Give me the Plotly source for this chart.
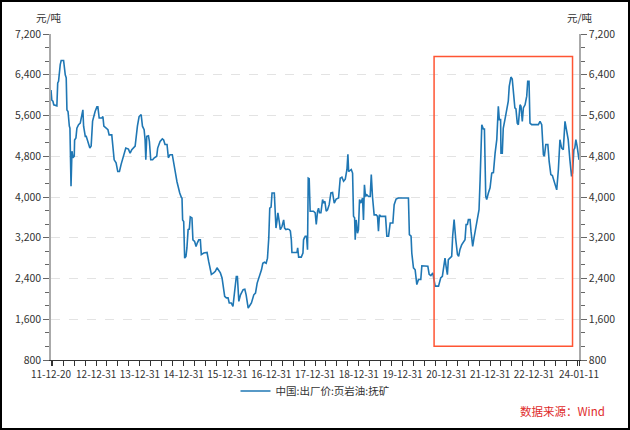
import plotly.graph_objects as go
import pandas as pd

# ---- data ----
dates = [
    "2011-12-20", "2011-12-27", "2012-01-05", "2012-01-12", "2012-02-07", "2012-02-14", "2012-02-21",
    "2012-02-28", "2012-03-06", "2012-03-14", "2012-04-03", "2012-04-17", "2012-04-25", "2012-05-01",
    "2012-05-10", "2012-05-21", "2012-05-26", "2012-06-04", "2012-06-12", "2012-06-20", "2012-07-01",
    "2012-07-04", "2012-07-15", "2012-07-23", "2012-08-06", "2012-08-20", "2012-09-03", "2012-09-11",
    "2012-09-17", "2012-10-01", "2012-10-09", "2012-10-23", "2012-11-08", "2012-11-19", "2012-12-01",
    "2012-12-22", "2013-01-06", "2013-01-14", "2013-01-25", "2013-02-17", "2013-02-25", "2013-03-05",
    "2013-03-21", "2013-04-08", "2013-04-18", "2013-05-10", "2013-05-30", "2013-06-15", "2013-06-29",
    "2013-07-13", "2013-07-27", "2013-08-07", "2013-08-24", "2013-09-04", "2013-09-26", "2013-10-10",
    "2013-10-24", "2013-11-07", "2013-11-21", "2013-12-10", "2013-12-24", "2014-01-10", "2014-01-21",
    "2014-02-04", "2014-02-12", "2014-02-18", "2014-02-26", "2014-03-12", "2014-03-20", "2014-03-31",
    "2014-04-16", "2014-04-30", "2014-05-20", "2014-05-28", "2014-06-17", "2014-07-06", "2014-07-17",
    "2014-07-28", "2014-08-14", "2014-08-25", "2014-09-08", "2014-09-27", "2014-10-06", "2014-10-14",
    "2014-10-25", "2014-11-05", "2014-11-14", "2014-11-28", "2014-12-12", "2014-12-17", "2014-12-22",
    "2014-12-31", "2015-01-08", "2015-01-19", "2015-01-27", "2015-02-06", "2015-02-16", "2015-02-24",
    "2015-03-10", "2015-03-18", "2015-04-01", "2015-04-13", "2015-04-24", "2015-05-06", "2015-05-19",
    "2015-05-27", "2015-06-16", "2015-07-14", "2015-07-27", "2015-08-10", "2015-08-19", "2015-09-07",
    "2015-09-21", "2015-10-05", "2015-10-19", "2015-11-02", "2015-11-16", "2015-11-30", "2015-12-08",
    "2015-12-22", "2016-01-05", "2016-01-15", "2016-02-01", "2016-02-15", "2016-03-01", "2016-03-14",
    "2016-03-23", "2016-04-04", "2016-04-18", "2016-04-26", "2016-05-10", "2016-05-24", "2016-06-04",
    "2016-06-21", "2016-07-01", "2016-07-18", "2016-08-07", "2016-08-21", "2016-09-04", "2016-09-23",
    "2016-10-10", "2016-10-21", "2016-11-04", "2016-11-18", "2016-11-29", "2016-12-10", "2016-12-18",
    "2016-12-29", "2017-01-06", "2017-01-25", "2017-02-02", "2017-02-08", "2017-02-16", "2017-02-24",
    "2017-03-07", "2017-03-16", "2017-03-30", "2017-04-13", "2017-04-21", "2017-05-02", "2017-05-16",
    "2017-05-30", "2017-06-08", "2017-06-16", "2017-06-21", "2017-07-19", "2017-08-02", "2017-08-08",
    "2017-08-16", "2017-09-07", "2017-09-21", "2017-09-26", "2017-10-10", "2017-10-21", "2017-10-29",
    "2017-11-04", "2017-11-12", "2017-11-20", "2017-12-18", "2018-01-01", "2018-01-10", "2018-01-21",
    "2018-01-29", "2018-02-06", "2018-02-18", "2018-03-04", "2018-03-12", "2018-03-23", "2018-04-03",
    "2018-04-14", "2018-04-28", "2018-05-12", "2018-05-26", "2018-06-09", "2018-06-25", "2018-07-15",
    "2018-07-29", "2018-08-12", "2018-08-26", "2018-09-09", "2018-09-23", "2018-10-01", "2018-10-07",
    "2018-10-29", "2018-11-09", "2018-11-17", "2018-11-26", "2018-12-01", "2018-12-09", "2018-12-20",
    "2018-12-28", "2019-01-06", "2019-01-17", "2019-01-31", "2019-02-08", "2019-02-16", "2019-02-25",
    "2019-03-08", "2019-03-22", "2019-04-05", "2019-04-14", "2019-04-24", "2019-05-08", "2019-05-25",
    "2019-06-05", "2019-06-13", "2019-06-21", "2019-07-02", "2019-07-25", "2019-08-11", "2019-08-22",
    "2019-09-05", "2019-09-19", "2019-10-11", "2019-10-22", "2019-11-07", "2019-11-26", "2020-02-04",
    "2020-02-18", "2020-02-26", "2020-03-11", "2020-03-17", "2020-03-31", "2020-04-14", "2020-04-28",
    "2020-05-12", "2020-05-31", "2020-06-09", "2020-07-15", "2020-07-29", "2020-08-09", "2020-08-23",
    "2020-09-08", "2020-09-19", "2020-09-28", "2020-10-26", "2020-11-13", "2020-11-27", "2020-12-11",
    "2020-12-19", "2020-12-28", "2021-01-08", "2021-01-16", "2021-01-30", "2021-02-13", "2021-02-21",
    "2021-03-05", "2021-03-19", "2021-04-02", "2021-04-12", "2021-04-23", "2021-05-07", "2021-05-21",
    "2021-06-04", "2021-06-13", "2021-06-24", "2021-07-02", "2021-07-16", "2021-07-24", "2021-08-07",
    "2021-08-18", "2021-09-01", "2021-09-18", "2021-09-29", "2021-10-08", "2021-10-22", "2021-11-04",
    "2021-11-13", "2021-11-24", "2021-12-02", "2021-12-16", "2021-12-30", "2022-01-13", "2022-01-27",
    "2022-02-10", "2022-02-24", "2022-03-09", "2022-03-17", "2022-03-28", "2022-03-31", "2022-04-11",
    "2022-04-19", "2022-05-03", "2022-05-17", "2022-05-31", "2022-06-08", "2022-06-22", "2022-07-03",
    "2022-07-11", "2022-07-25", "2022-08-03", "2022-08-14", "2022-08-23", "2022-09-06", "2022-09-14",
    "2022-09-25", "2022-10-04", "2022-10-18", "2022-11-01", "2022-11-09", "2022-11-20", "2022-11-28",
    "2022-12-12", "2023-02-06", "2023-02-20", "2023-03-06", "2023-03-20", "2023-03-28", "2023-04-09",
    "2023-04-26", "2023-05-07", "2023-05-21", "2023-06-03", "2023-06-17", "2023-07-01", "2023-07-09",
    "2023-07-23", "2023-08-05", "2023-08-19", "2023-09-02", "2023-09-16", "2023-09-29", "2023-10-13",
    "2023-10-27", "2023-11-10", "2023-11-18", "2023-11-29", "2023-12-07", "2023-12-16", "2023-12-27",
    "2024-01-11",
]

prices = [
    6100, 5900, 5880, 5810, 5790, 6240, 6270,
    6530, 6600, 6680, 6680, 6400, 6340, 5710,
    5680, 5390, 5350, 4210, 4900, 4770, 4800,
    5120, 5160, 5350, 5420, 5450, 5680, 5710,
    5390, 5190, 5190, 5060, 4960, 5000, 5490,
    5680, 5770, 5770, 5550, 5550, 5580, 5390,
    5350, 5320, 5220, 5220, 4730, 4670, 4500,
    4500, 4640, 4730, 4860, 4960, 4940, 4860,
    4930, 4960, 5000, 5390, 5580, 5620, 5390,
    5320, 5120, 4730, 5190, 5200, 5090, 4730,
    4730, 4770, 4800, 4960, 5090, 5140, 5120,
    5030, 5030, 4770, 4830, 4830, 4730, 4640,
    4450, 4300, 4200, 4080, 3990, 3980, 3550,
    3520, 2800, 2835, 3000, 3360, 3370, 3610,
    3590, 3160, 3130, 3030, 3100, 3160, 3160,
    2870, 2900, 2910, 2740, 2570, 2480, 2510,
    2540, 2610, 2570, 2510, 2410, 2180, 2050,
    2020, 2020, 1920, 1920, 1850, 2115, 2440,
    2440, 1950, 2080, 2115, 2180, 2190, 2080,
    1820, 1850, 1920, 2080, 2115, 2310, 2440,
    2570, 2700, 2720, 2700, 2800, 3200, 3780,
    3800, 4080, 4080, 3750, 3390, 3520, 3690,
    3520, 3360, 3420, 3550, 3390, 3360, 3370,
    3360, 3330, 3160, 2910, 2910, 2910, 3000,
    2820, 2820, 2900, 3160, 3230, 3230, 2965,
    4370, 4360, 3720, 3720, 3690, 3460, 3720,
    3780, 3690, 3690, 3950, 3880, 3915, 3720,
    3750, 3850, 4080, 4090, 3880, 3960, 3980,
    4370, 4390, 4310, 4350, 4540, 4840, 4500,
    4540, 4470, 3620, 3590, 3160, 3550, 3290,
    3360, 3950, 3880, 3980, 3550, 4240, 4010,
    4045, 4010, 4010, 4440, 4010, 3650, 3650,
    3620, 3330, 3650, 3620, 3620, 3620, 3230,
    3230, 3490, 3490, 3850, 3960, 3980, 3980,
    3980, 3260, 3230, 2900, 2610, 2570, 2280,
    2380, 2380, 2650, 2650, 2640, 2480, 2455,
    2510, 2340, 2250, 2250, 2410, 2440, 2700,
    2800, 2640, 2475, 2770, 2800, 2835, 3230,
    3555, 3160, 2870, 2835, 2970, 3060, 3110,
    3160, 3460, 3460, 3555, 3555, 3330, 3030,
    3195, 3360, 3555, 3750, 4340, 5420, 5335,
    5335, 4010, 3950, 4080, 4180, 4470, 4480,
    4860, 5125, 5780, 5520, 5520, 4860, 4860,
    5350, 5520, 5680, 5880, 6170, 6355, 6316,
    6140, 5750, 5730, 5450, 5420, 5810, 5780,
    5485, 5750, 5810, 5980, 6270, 6270, 5450,
    5420, 5420, 5485, 5420, 4830, 4800, 5030,
    5030, 4700, 4440, 4420, 4310, 4180, 4140,
    4540, 5125, 4960, 4930, 5485, 5320, 5125,
    4730, 4405, 4470, 4930, 4960, 5125, 4990,
    4730,
]

series_name = "中国:出厂价:页岩油:抚矿"
unit_label = "元/吨"
source_text = "数据来源：Wind"

x_tick_dates = ["2011-12-20", "2012-12-31", "2013-12-31", "2014-12-31", "2015-12-31",
                "2016-12-31", "2017-12-31", "2018-12-31", "2019-12-31", "2020-12-31",
                "2021-12-31", "2022-12-31", "2023-12-31", "2024-01-11"]
x_tick_text = ["11-12-20", "12-12-31", "13-12-31", "14-12-31", "15-12-31",
               "16-12-31", "17-12-31", "18-12-31", "19-12-31", "20-12-31",
               "21-12-31", "22-12-31", "", "24-01-11"]

y_min, y_max, y_step = 800, 7200, 800
box_x = ["2020-09-19", "2023-11-18"]
box_y = [1070, 6760]

# ---- styling ----
FONT = "Noto Sans CJK SC, Noto Sans, sans-serif"
W, H = 630, 430
ML, MR, MT, MB = 51, 51, 34, 70
PW, PH = W - ML - MR, H - MT - MB

minor_x = [d.strftime("%Y-%m-%d") for d in pd.date_range(dates[0], dates[-1], freq="QE")
           if d.strftime("%Y-%m-%d") not in x_tick_dates]

fig = go.Figure()
fig.add_trace(go.Scatter(
    x=dates, y=prices, mode="lines", name=series_name,
    line=dict(color="#1f77b4", width=1.6), yaxis="y",
))
fig.add_trace(go.Scatter(
    x=[dates[0], dates[-1]], y=[None, None], mode="lines", showlegend=False,
    yaxis="y2", hoverinfo="skip",
))

yaxis_common = dict(
    range=[y_min, y_max], tick0=y_min, dtick=y_step, tickformat=",",
    ticks="outside", ticklen=6, tickcolor="#666", tickwidth=1,
    showline=True, linecolor="#aaa", linewidth=1.5,
    tickfont=dict(family=FONT, size=10.5, color="#333"),
    minor=dict(ticks="outside", ticklen=4, tickcolor="#666", dtick=y_step / 3, tick0=y_min,
               showgrid=False),
    zeroline=False, fixedrange=True,
)

fig.update_layout(
    width=W, height=H,
    margin=dict(l=ML, r=MR, t=MT, b=MB, pad=0),
    paper_bgcolor="white", plot_bgcolor="white",
    font=dict(family=FONT, size=11, color="#333"),
    xaxis=dict(
        type="date", range=[dates[0], dates[-1]],
        tickmode="array", tickvals=x_tick_dates, ticktext=x_tick_text,
        ticks="outside", ticklen=5, tickcolor="#333",
        showline=True, linecolor="#333", linewidth=1,
        showgrid=False, zeroline=False,
        tickfont=dict(family=FONT, size=10, color="#333"),
        minor=dict(tickmode="array", tickvals=minor_x, ticks="outside", ticklen=5,
                   tickcolor="#333", showgrid=False),
    ),
    yaxis=dict(
        side="left", showgrid=True, gridcolor="#e3e3e3", griddash="dash", gridwidth=1,
        **yaxis_common,
    ),
    yaxis2=dict(
        side="right", overlaying="y", anchor="x", showgrid=False,
        **yaxis_common,
    ),
    showlegend=True,
    legend=dict(
        orientation="h", x=0.5, xanchor="center", y=-(391 - (MT + PH)) / PH, yanchor="middle",
        font=dict(family=FONT, size=10.5, color="#333"), bgcolor="rgba(0,0,0,0)",
        itemwidth=30,
    ),
)

fig.add_annotation(text=unit_label, xref="paper", yref="paper", x=-2 / PW, y=1 + 17 / PH,
                   showarrow=False, xanchor="center", yanchor="middle",
                   font=dict(family=FONT, size=10.5, color="#333"))
fig.add_annotation(text=unit_label, xref="paper", yref="paper", x=1 + 1 / PW, y=1 + 17 / PH,
                   showarrow=False, xanchor="center", yanchor="middle",
                   font=dict(family=FONT, size=10.5, color="#333"))
fig.add_annotation(text=source_text, xref="paper", yref="paper",
                   x=1 + (607 - (ML + PW)) / PW, y=-(411 - (MT + PH)) / PH,
                   showarrow=False, xanchor="right", yanchor="middle",
                   font=dict(family=FONT, size=11.5, color="#e02b2b"))

# highlight box
fig.add_shape(type="rect", xref="x", yref="y", x0=box_x[0], x1=box_x[1], y0=box_y[0], y1=box_y[1],
              line=dict(color="#ff5533", width=1.5), fillcolor="rgba(0,0,0,0)")
# outer border
fig.add_shape(type="rect", xref="paper", yref="paper",
              x0=-(ML - 1) / PW, x1=1 + (MR - 1) / PW, y0=-(MB - 1) / PH, y1=1 + (MT - 1) / PH,
              line=dict(color="black", width=2), fillcolor="rgba(0,0,0,0)")

fig.write_html(
    "out.html",
    config={"displayModeBar": False},
    post_script="document.body.style.margin='0';document.body.style.overflow='hidden';",
)
